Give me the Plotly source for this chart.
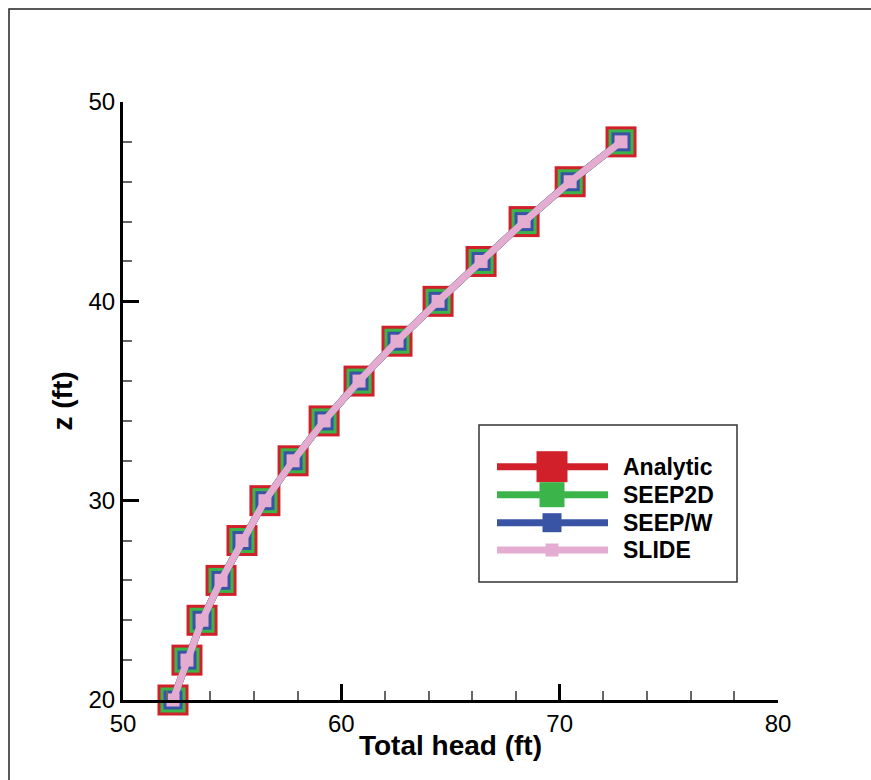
import plotly.graph_objects as go

# ---- data ----
z_ft = [20, 22, 24, 26, 28, 30, 32, 34, 36, 38, 40, 42, 44, 46, 48]
head_analytic = [52.29, 52.93, 53.62, 54.49, 55.45, 56.50, 57.79, 59.21,
                 60.81, 62.55, 64.43, 66.40, 68.37, 70.48, 72.81]
head_seep2d = list(head_analytic)
head_seepw = list(head_analytic)
head_slide = list(head_analytic)

series_names = ["Analytic", "SEEP2D", "SEEP/W", "SLIDE"]
series_values = [head_analytic, head_seep2d, head_seepw, head_slide]
colors = ["#D2202A", "#3BB54A", "#3A54A5", "#E3ACD0"]
marker_sizes = [31, 25, 19, 13]

FONT = "Liberation Sans, Arial, Helvetica, sans-serif"

fig = go.Figure()
for name, vals, col, ms in zip(series_names, series_values, colors, marker_sizes):
    fig.add_trace(go.Scatter(
        x=vals, y=z_ft, name=name, mode="lines+markers",
        line=dict(color=col, width=7),
        marker=dict(symbol="square", size=ms, color=col, line=dict(width=0)),
        showlegend=False, cliponaxis=False,
    ))

axis_common = dict(
    showline=True, linecolor="black", linewidth=3,
    ticks="inside", ticklen=16, tickwidth=3, tickcolor="black",
    dtick=10, showgrid=False, zeroline=False,
    tickfont=dict(family=FONT, size=24, color="black"),
    minor=dict(dtick=2, ticks="inside", ticklen=9, tickwidth=1.5,
               tickcolor="#666666", showgrid=False),
)

fig.update_xaxes(range=[50, 80], tick0=50, ticklabelstandoff=0,
                 title=dict(text="Total head (ft)", standoff=0,
                            font=dict(family=FONT, size=28, color="black", weight="bold")),
                 **axis_common)
fig.update_yaxes(range=[20, 50], tick0=20,
                 title=dict(text="z (ft)", standoff=8,
                            font=dict(family=FONT, size=28, color="black", weight="bold")),
                 **axis_common)

W, H = 871, 780
L, R, T, B = 123, 93, 102, 80
pw, ph = W - L - R, H - T - B


def px_x(p):
    return (p - L) / pw


def px_y(p):
    return (H - B - p) / ph


shapes = []
# outer frame (top and left edges visible)
shapes.append(dict(type="path", xref="paper", yref="paper",
                   path=f"M {px_x(9)},{px_y(790)} L {px_x(9)},{px_y(9)} L {px_x(880)},{px_y(9)}",
                   line=dict(color="#222222", width=1.5)))
# legend box
shapes.append(dict(type="rect", xref="paper", yref="paper",
                   x0=px_x(479), x1=px_x(737), y0=px_y(582), y1=px_y(425),
                   line=dict(color="#333333", width=1.5), fillcolor="white", layer="above"))
row_y = [466.7, 494.7, 522.7, 550.0]
annotations = []
for name, col, ms, ry in zip(series_names, colors, marker_sizes, row_y):
    shapes.append(dict(type="line", xref="paper", yref="paper",
                       x0=px_x(497), x1=px_x(608), y0=px_y(ry), y1=px_y(ry),
                       line=dict(color=col, width=7), layer="above"))
    shapes.append(dict(type="rect", xref="paper", yref="paper",
                       xsizemode="pixel", ysizemode="pixel",
                       xanchor=px_x(552), yanchor=px_y(ry),
                       x0=-ms / 2, x1=ms / 2, y0=-ms / 2, y1=ms / 2,
                       fillcolor=col, line=dict(width=0), layer="above"))
    annotations.append(dict(xref="paper", yref="paper", x=px_x(621), y=px_y(ry),
                            xanchor="left", yanchor="middle", showarrow=False,
                            text=name,
                            font=dict(family=FONT, size=23, color="black", weight="bold")))

fig.update_layout(
    width=W, height=H,
    margin=dict(l=L, r=R, t=T, b=B, autoexpand=False),
    paper_bgcolor="white", plot_bgcolor="white",
    shapes=shapes, annotations=annotations,
    showlegend=False,
)

fig.write_html("out.html")
